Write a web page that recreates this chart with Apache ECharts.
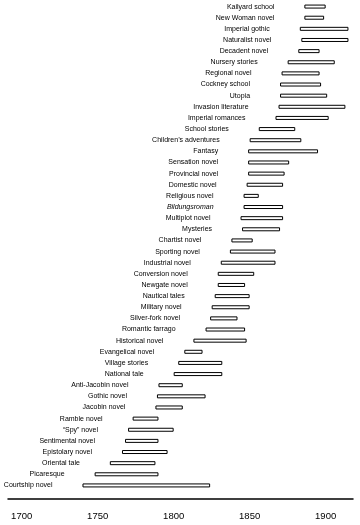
<!DOCTYPE html>
<html><head><meta charset="utf-8">
<script src="https://cdn.jsdelivr.net/npm/echarts@6/dist/echarts.min.js"></script>
<style>html,body{margin:0;padding:0;background:#fff}#c{width:360px;height:525px}</style>
</head><body><div id="c"></div>
<script>
var genres = ["Kailyard school","New Woman novel","Imperial gothic","Naturalist novel","Decadent novel","Nursery stories","Regional novel","Cockney school","Utopia","Invasion literature","Imperial romances","School stories","Children\u2019s adventures","Fantasy","Sensation novel","Provincial novel","Domestic novel","Religious novel","Bildungsroman","Multiplot novel","Mysteries","Chartist novel","Sporting novel","Industrial novel","Conversion novel","Newgate novel","Nautical tales","Military novel","Silver-fork novel","Romantic farrago","Historical novel","Evangelical novel","Village stories","National tale","Anti-Jacobin novel","Gothic novel","Jacobin novel","Ramble novel","\u201cSpy\u201d novel","Sentimental novel","Epistolary novel","Oriental tale","Picaresque","Courtship novel"];
var startYears = [1886,1886,1883,1884,1882,1875,1871,1870,1870,1869,1867,1856,1850,1849,1849,1849,1848,1846,1846,1844,1845,1838,1837,1831,1829,1829,1827,1825,1824,1821,1813,1807,1803,1800,1790,1789,1788,1773,1770,1768,1766,1758,1748,1740];
var endYears = [1900,1899,1915,1915,1896,1906,1896,1897,1901,1913,1902,1880,1884,1895,1876,1873,1872,1856,1872,1872,1870,1852,1867,1867,1853,1847,1850,1850,1842,1847,1848,1819,1832,1832,1806,1821,1806,1790,1800,1790,1796,1788,1790,1824];
var italicGenres = ["Bildungsroman"];
var yearTicks = [1700,1750,1800,1850,1900];

var chart = echarts.init(document.getElementById('c'), null, {renderer:'canvas'});
var spanData = genres.map(function(g,i){
  var item = {value: endYears[i]-startYears[i]};
  if (italicGenres.indexOf(g) >= 0) item.label = {fontStyle:'italic'};
  return item;
});
chart.setOption({
  animation:false,
  backgroundColor:'#fff',
  grid:{left:8,right:7,top:1,bottom:34},
  xAxis:{type:'value',min:1691,max:1918,offset:8,
    axisLine:{show:true,lineStyle:{color:'#000',width:1.5}},
    axisTick:{show:false},splitLine:{show:false},
    axisLabel:{customValues:yearTicks,color:'#000',fontSize:9.5,fontFamily:'Liberation Sans',margin:12,formatter:function(v){return String(v);}}
  },
  yAxis:{type:'category',data:genres,inverse:true,
    axisLine:{show:false},axisTick:{show:false},axisLabel:{show:false},splitLine:{show:false}},
  series:[
    {type:'bar',stack:'g',data:startYears,itemStyle:{color:'transparent'},barWidth:4,silent:true},
    {type:'bar',stack:'g',data:spanData,barWidth:4,
      itemStyle:{color:'#fff',borderColor:'#000',borderWidth:1},
      label:{show:true,position:'left',distance:30,color:'#000',fontSize:7,fontFamily:'Liberation Sans',
        formatter:function(p){return p.name;}}}
  ]
});
</script></body></html>
